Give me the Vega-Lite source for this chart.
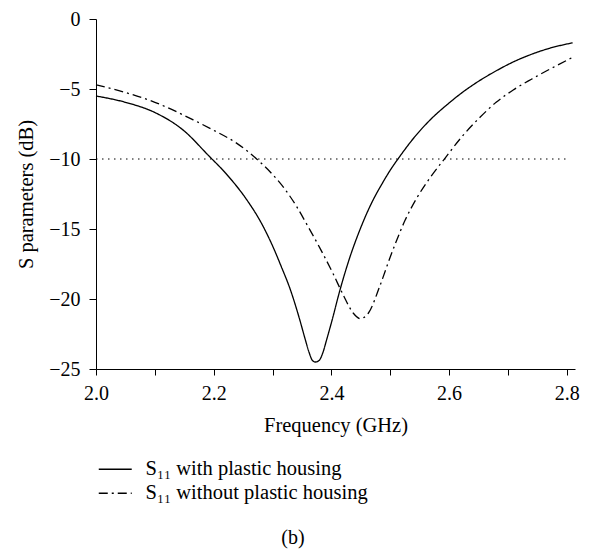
{
  "$schema": "https://vega.github.io/schema/vega-lite/v6.json",
  "width": 479,
  "height": 350,
  "autosize": {"type": "none"},
  "padding": {"left": 96, "top": 19, "right": 14, "bottom": 180},
  "background": "white",
  "config": {
    "font": "Liberation Serif",
    "view": {"stroke": null},
    "axis": {"grid": false, "domainColor": "black", "tickColor": "black", "labelColor": "black", "titleColor": "black", "labelFont": "Liberation Serif", "titleFont": "Liberation Serif", "labelFontSize": 20, "titleFontSize": 20.5, "titleFontWeight": "normal", "domainWidth": 1, "tickWidth": 1},
    "legend": {"labelFont": "Liberation Serif", "labelFontSize": 20.5, "labelColor": "black", "labelLimit": 500}
  },
  "title": {"text": "(b)", "orient": "bottom", "anchor": "middle", "frame": "bounds", "offset": 24, "dx": -5, "fontSize": 20, "fontWeight": "normal", "font": "Liberation Serif", "color": "black"},
  "datasets": {
    "curves": [
      {"f": 2.000, "s": -5.5, "series": "S₁₁ with plastic housing"},
      {"f": 2.050, "s": -5.95, "series": "S₁₁ with plastic housing"},
      {"f": 2.100, "s": -6.68, "series": "S₁₁ with plastic housing"},
      {"f": 2.150, "s": -8.0, "series": "S₁₁ with plastic housing"},
      {"f": 2.190, "s": -9.7, "series": "S₁₁ with plastic housing"},
      {"f": 2.220, "s": -11.0, "series": "S₁₁ with plastic housing"},
      {"f": 2.256, "s": -12.9, "series": "S₁₁ with plastic housing"},
      {"f": 2.280, "s": -14.5, "series": "S₁₁ with plastic housing"},
      {"f": 2.300, "s": -16.2, "series": "S₁₁ with plastic housing"},
      {"f": 2.315, "s": -17.7, "series": "S₁₁ with plastic housing"},
      {"f": 2.330, "s": -19.3, "series": "S₁₁ with plastic housing"},
      {"f": 2.345, "s": -21.3, "series": "S₁₁ with plastic housing"},
      {"f": 2.355, "s": -22.8, "series": "S₁₁ with plastic housing"},
      {"f": 2.362, "s": -23.8, "series": "S₁₁ with plastic housing"},
      {"f": 2.368, "s": -24.4, "series": "S₁₁ with plastic housing"},
      {"f": 2.373, "s": -24.5, "series": "S₁₁ with plastic housing"},
      {"f": 2.379, "s": -24.4, "series": "S₁₁ with plastic housing"},
      {"f": 2.385, "s": -23.9, "series": "S₁₁ with plastic housing"},
      {"f": 2.392, "s": -22.9, "series": "S₁₁ with plastic housing"},
      {"f": 2.400, "s": -21.7, "series": "S₁₁ with plastic housing"},
      {"f": 2.415, "s": -19.3, "series": "S₁₁ with plastic housing"},
      {"f": 2.430, "s": -17.2, "series": "S₁₁ with plastic housing"},
      {"f": 2.449, "s": -15.0, "series": "S₁₁ with plastic housing"},
      {"f": 2.470, "s": -13.0, "series": "S₁₁ with plastic housing"},
      {"f": 2.485, "s": -11.85, "series": "S₁₁ with plastic housing"},
      {"f": 2.500, "s": -10.8, "series": "S₁₁ with plastic housing"},
      {"f": 2.514, "s": -9.95, "series": "S₁₁ with plastic housing"},
      {"f": 2.540, "s": -8.5, "series": "S₁₁ with plastic housing"},
      {"f": 2.568, "s": -7.2, "series": "S₁₁ with plastic housing"},
      {"f": 2.600, "s": -6.0, "series": "S₁₁ with plastic housing"},
      {"f": 2.624, "s": -5.2, "series": "S₁₁ with plastic housing"},
      {"f": 2.650, "s": -4.45, "series": "S₁₁ with plastic housing"},
      {"f": 2.681, "s": -3.68, "series": "S₁₁ with plastic housing"},
      {"f": 2.710, "s": -3.05, "series": "S₁₁ with plastic housing"},
      {"f": 2.737, "s": -2.57, "series": "S₁₁ with plastic housing"},
      {"f": 2.770, "s": -2.1, "series": "S₁₁ with plastic housing"},
      {"f": 2.810, "s": -1.7, "series": "S₁₁ with plastic housing"},
      {"f": 2.000, "s": -4.7, "series": "S₁₁ without plastic housing"},
      {"f": 2.050, "s": -5.25, "series": "S₁₁ without plastic housing"},
      {"f": 2.100, "s": -5.95, "series": "S₁₁ without plastic housing"},
      {"f": 2.165, "s": -7.2, "series": "S₁₁ without plastic housing"},
      {"f": 2.200, "s": -7.95, "series": "S₁₁ without plastic housing"},
      {"f": 2.240, "s": -8.9, "series": "S₁₁ without plastic housing"},
      {"f": 2.273, "s": -10.0, "series": "S₁₁ without plastic housing"},
      {"f": 2.300, "s": -11.1, "series": "S₁₁ without plastic housing"},
      {"f": 2.320, "s": -12.1, "series": "S₁₁ without plastic housing"},
      {"f": 2.341, "s": -13.4, "series": "S₁₁ without plastic housing"},
      {"f": 2.360, "s": -14.8, "series": "S₁₁ without plastic housing"},
      {"f": 2.381, "s": -16.4, "series": "S₁₁ without plastic housing"},
      {"f": 2.403, "s": -18.2, "series": "S₁₁ without plastic housing"},
      {"f": 2.420, "s": -19.7, "series": "S₁₁ without plastic housing"},
      {"f": 2.437, "s": -21.0, "series": "S₁₁ without plastic housing"},
      {"f": 2.449, "s": -21.4, "series": "S₁₁ without plastic housing"},
      {"f": 2.463, "s": -21.0, "series": "S₁₁ without plastic housing"},
      {"f": 2.483, "s": -19.0, "series": "S₁₁ without plastic housing"},
      {"f": 2.500, "s": -17.0, "series": "S₁₁ without plastic housing"},
      {"f": 2.511, "s": -15.8, "series": "S₁₁ without plastic housing"},
      {"f": 2.525, "s": -14.4, "series": "S₁₁ without plastic housing"},
      {"f": 2.545, "s": -12.8, "series": "S₁₁ without plastic housing"},
      {"f": 2.570, "s": -11.2, "series": "S₁₁ without plastic housing"},
      {"f": 2.593, "s": -9.95, "series": "S₁₁ without plastic housing"},
      {"f": 2.620, "s": -8.5, "series": "S₁₁ without plastic housing"},
      {"f": 2.653, "s": -7.0, "series": "S₁₁ without plastic housing"},
      {"f": 2.680, "s": -5.95, "series": "S₁₁ without plastic housing"},
      {"f": 2.709, "s": -5.07, "series": "S₁₁ without plastic housing"},
      {"f": 2.740, "s": -4.3, "series": "S₁₁ without plastic housing"},
      {"f": 2.766, "s": -3.7, "series": "S₁₁ without plastic housing"},
      {"f": 2.810, "s": -2.74, "series": "S₁₁ without plastic housing"}
    ],
    "ref": [{"y": -10, "x1": 2.0, "x2": 2.8}]
  },
  "layer": [
    {
      "data": {"name": "ref"},
      "mark": {"type": "rule", "color": "black", "strokeWidth": 1, "strokeDash": [1.5, 4.5]},
      "encoding": {
        "y": {"field": "y", "type": "quantitative"},
        "x": {"field": "x1", "type": "quantitative"},
        "x2": {"field": "x2"}
      }
    },
    {
      "data": {"name": "curves"},
      "mark": {"type": "line", "color": "black", "strokeWidth": 1.3, "interpolate": "monotone"},
      "encoding": {
        "x": {"field": "f", "type": "quantitative",
              "scale": {"domain": [2.0, 2.814], "nice": false, "zero": false},
              "axis": {"title": "Frequency (GHz)", "values": [2.0, 2.1, 2.2, 2.3, 2.4, 2.5, 2.6, 2.7, 2.8],
                       "format": ".1f", "labelExpr": "round(datum.value*10) % 2 === 0 ? datum.label : ''",
                       "tickSize": 6, "labelPadding": 8, "titlePadding": 12, "labelFlush": false}},
        "y": {"field": "s", "type": "quantitative",
              "scale": {"domain": [-25, 0], "nice": false},
              "axis": {"title": "S parameters (dB)", "values": [-25, -22.5, -20, -17.5, -15, -12.5, -10, -7.5, -5, -2.5, 0],
                       "labelExpr": "datum.value % 5 === 0 ? datum.label : ''",
                       "tickSize": 7, "labelPadding": 9, "titlePadding": 12, "labelFlush": false}},
        "strokeDash": {"field": "series", "type": "nominal",
                       "scale": {"domain": ["S₁₁ with plastic housing", "S₁₁ without plastic housing"], "range": [[1, 0], [9, 4, 2, 4]]},
                       "legend": {"title": null, "orient": "none", "legendX": 9, "legendY": 440, "padding": 0,
                                  "symbolType": "M-2,0H2", "symbolSize": 272, "symbolStrokeWidth": 1.3, "symbolStrokeColor": "black", "symbolFillColor": "transparent",
                                  "labelOffset": 20, "rowPadding": 3, "labelFontSize": 20.5, "labelLimit": 500}},
        "detail": {"field": "series"}
      }
    }
  ]
}
